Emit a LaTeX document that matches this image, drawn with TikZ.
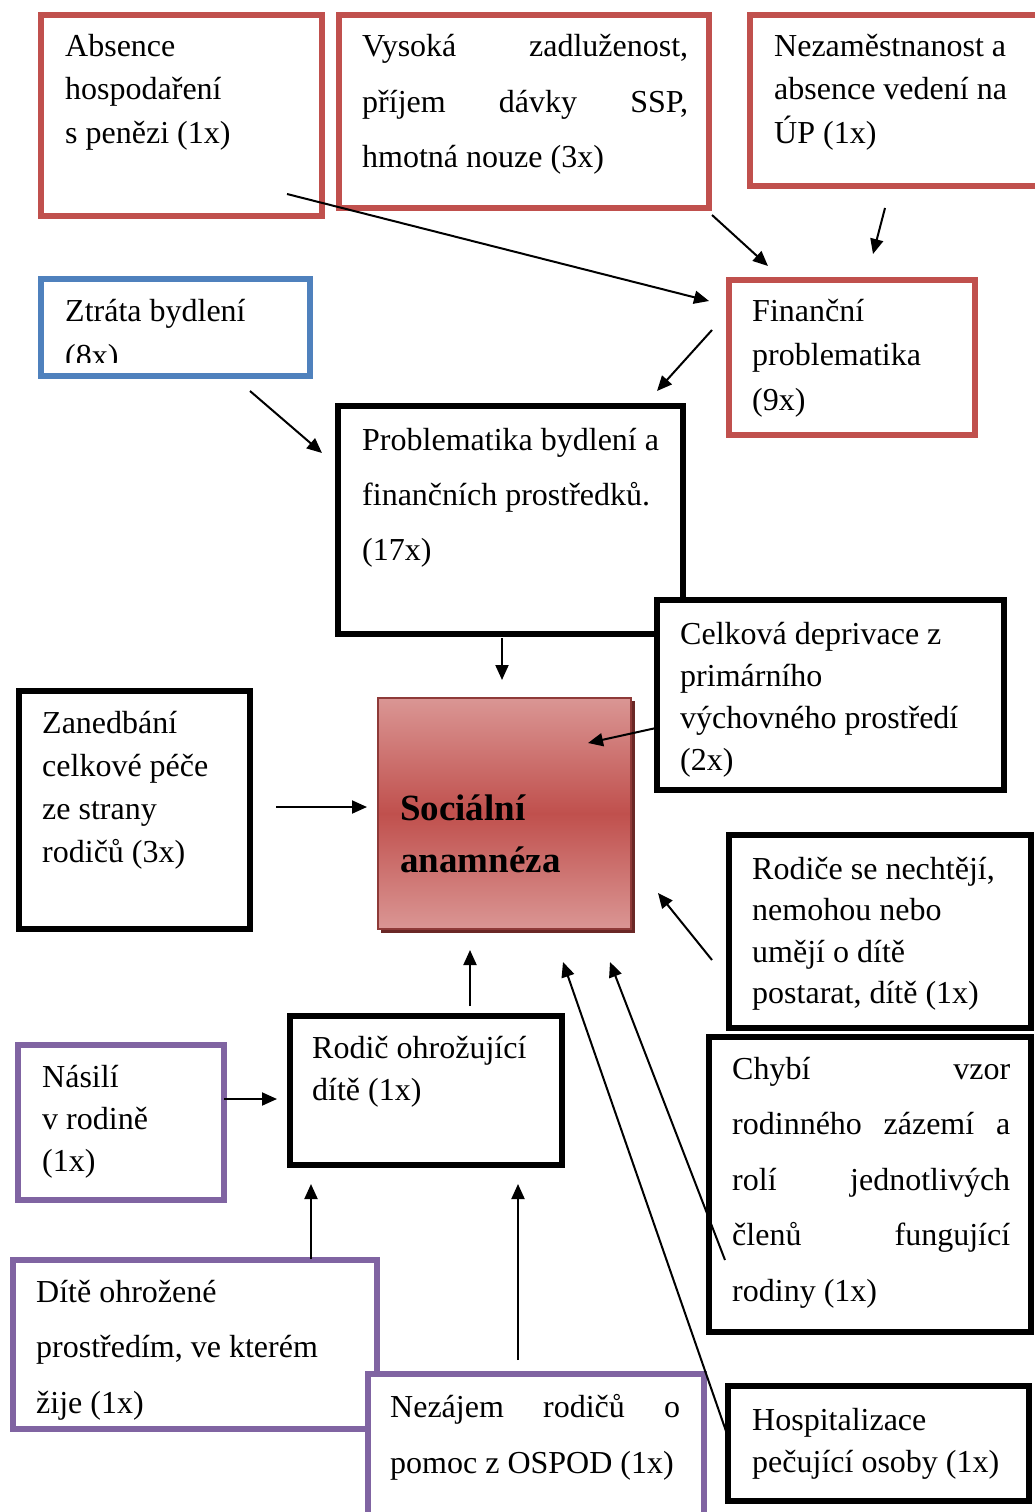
\documentclass[tikz,border=0pt]{standalone}
\usepackage{fontspec}
\setmainfont{Liberation Serif}
\usetikzlibrary{arrows.meta,fit}
\definecolor{bred}{HTML}{C0504D}
\definecolor{bblue}{HTML}{4F81BD}
\definecolor{bpurple}{HTML}{8064A2}
\definecolor{soclight}{HTML}{DA9694}
\definecolor{socmid}{HTML}{C0504D}
\definecolor{socedge}{HTML}{8E3A38}
\definecolor{socshadow}{HTML}{6A2826}
\newcommand\tlines[3]{\vtop{\hsize=#1pt\linewidth=\hsize\parindent=0pt\baselineskip=#2pt\lineskiplimit=-100pt\raggedright #3\par}}
\newcommand\jline[1]{\makebox[\linewidth][s]{#1}}
\tikzset{
  redbox/.style={draw=bred, line width=6pt, fill=white, inner sep=0pt},
  bluebox/.style={draw=bblue, line width=6pt, fill=white, inner sep=0pt},
  purplebox/.style={draw=bpurple, line width=5.5pt, fill=white, inner sep=0pt},
  blackbox/.style={draw=black, line width=6.5pt, fill=white, inner sep=0pt},
  txt/.style={inner sep=0pt, anchor=base west, font=\fontsize{32}{43}\selectfont},
  boldtxt/.style={inner sep=0pt, anchor=base west, font=\fontsize{37}{52}\selectfont\bfseries},
  arr/.style={line width=2pt, -{Triangle[length=15pt,width=13pt]}}
}
\begin{document}
\begin{tikzpicture}[x=1pt,y=-1pt]
\useasboundingbox[fill=white] (0,0) rectangle (1034,1512);

% top row
\node[redbox, fit={(41,15) (322,216)}] (abs) {};
\node[txt] (absT) at (65,57) {\tlines{250}{43}{Absence\\hospodaření\\s penězi (1x)}};
\node[redbox, fit={(339,15) (709,208)}] (vys) {};
\node[txt] (vysT) at (362,57) {\tlines{326}{55}{\jline{Vysoká zadluženost,}\\\jline{příjem dávky SSP,}\\hmotná nouze (3x)}};
\node[redbox, fit={(750,15) (1050,186)}] (nez) {};
\node[txt] (nezT) at (774,57) {\tlines{260}{43}{Nezaměstnanost a\\absence vedení na\\ÚP (1x)}};

% second row
\node[redbox, fit={(729,280) (975,435)}] (fin) {};
\node[txt] (finT) at (752,321) {\tlines{220}{44.5}{Finanční\\problematika\\(9x)}};
\node[bluebox, fit={(41,279) (310,376)}] (ztr) {};
\begin{scope}
\clip (41,279) rectangle (310,362);
\node[txt] (ztrT) at (65,321) {\tlines{240}{45}{Ztráta bydlení\\(8x)}};
\end{scope}

% Problematika
\node[blackbox, fit={(338,406) (683,634)}] (pro) {};
\node[txt] (proT) at (362,450) {\tlines{320}{55}{Problematika bydlení a\\finančních prostředků.\\(17x)}};

% Celkova
\node[blackbox, fit={(657,600) (1004,790)}] (cel) {};
\node[txt] (celT) at (680,644) {\tlines{320}{42}{Celková deprivace z\\primárního\\výchovného prostředí\\(2x)}};

% Socialni anamneza
\fill[socshadow] (381,701) rectangle (635,933);
\node[draw=socedge, line width=1.5pt, inner sep=0pt, top color=soclight, bottom color=soclight, middle color=socmid, fit={(378,698) (631,929)}] (soc) {};
\node[boldtxt] (socT) at (400,820) {\tlines{230}{52}{Sociální\\anamnéza}};

% Zanedbani
\node[blackbox, fit={(19,691) (250,929)}] (zan) {};
\node[txt] (zanT) at (42,733) {\tlines{200}{43}{Zanedbání\\celkové péče\\ze strany\\rodičů (3x)}};

% Rodice se nechteji
\node[blackbox, fit={(729,835) (1031,1028)}] (rod) {};
\node[txt] (rodT) at (752,879) {\tlines{270}{41.5}{Rodiče se nechtějí,\\nemohou nebo\\umějí o dítě\\postarat, dítě (1x)}};

% Chybi vzor
\node[blackbox, fit={(709,1037) (1031,1332)}] (chy) {};
\node[txt] (chyT) at (732,1079) {\tlines{278}{55.5}{\jline{Chybí vzor}\\\jline{rodinného zázemí a}\\\jline{rolí jednotlivých}\\\jline{členů fungující}\\rodiny (1x)}};

% Nasili
\node[purplebox, fit={(18,1045) (224,1200)}] (nas) {};
\node[txt] (nasT) at (42,1087) {\tlines{170}{42}{Násilí\\v rodině\\(1x)}};

% Rodic ohrozujici
\node[blackbox, fit={(290,1016) (562,1165)}] (roc) {};
\node[txt] (rocT) at (312,1058) {\tlines{240}{42}{Rodič ohrožující\\dítě (1x)}};

% Dite ohrozene
\node[purplebox, fit={(13,1260) (377,1429)}] (dit) {};
\node[txt] (ditT) at (36,1302) {\tlines{330}{55.5}{Dítě ohrožené\\prostředím, ve kterém\\žije (1x)}};

% Nezajem
\node[purplebox, fit={(368,1374) (704,1540)}] (nzj) {};
\node[txt] (nzjT) at (390,1417) {\tlines{290}{56}{\jline{Nezájem rodičů o}\\pomoc z OSPOD (1x)}};

% Hospitalizace
\node[blackbox, fit={(728,1386) (1029,1501)}] (hos) {};
\node[txt] (hosT) at (752,1430) {\tlines{270}{42}{Hospitalizace\\pečující osoby (1x)}};

% arrow end points
\coordinate (a1) at (287,194);  \coordinate (a2) at (709,301);
\coordinate (b1) at (712,215);  \coordinate (b2) at (768,266);
\coordinate (c1) at (885,208);  \coordinate (c2) at (873,254);
\coordinate (d1) at (712,330);  \coordinate (d2) at (657,391);
\coordinate (e1) at (250,391);  \coordinate (e2) at (322,453);
\coordinate (f1) at (502,638);  \coordinate (f2) at (502,680);
\coordinate (g1) at (656,728);  \coordinate (g2) at (588,743);
\coordinate (h1) at (276,807);  \coordinate (h2) at (367,807);
\coordinate (i1) at (712,960);  \coordinate (i2) at (658,893);
\coordinate (j1) at (470,1006); \coordinate (j2) at (470,950);
\coordinate (k1) at (725,1260); \coordinate (k2) at (610,962);
\coordinate (l1) at (727,1434); \coordinate (l2) at (563,962);
\coordinate (m1) at (224,1099); \coordinate (m2) at (277,1099);
\coordinate (n1) at (311,1259); \coordinate (n2) at (311,1184);
\coordinate (o1) at (518,1360); \coordinate (o2) at (518,1184);

\draw[arr] (a1) -- (a2);
\draw[arr] (b1) -- (b2);
\draw[arr] (c1) -- (c2);
\draw[arr] (d1) -- (d2);
\draw[arr] (e1) -- (e2);
\draw[arr] (f1) -- (f2);
\draw[arr] (g1) -- (g2);
\draw[arr] (h1) -- (h2);
\draw[arr] (i1) -- (i2);
\draw[arr] (j1) -- (j2);
\draw[arr] (k1) -- (k2);
\draw[arr] (l1) -- (l2);
\draw[arr] (m1) -- (m2);
\draw[arr] (n1) -- (n2);
\draw[arr] (o1) -- (o2);
\end{tikzpicture}
\end{document}
